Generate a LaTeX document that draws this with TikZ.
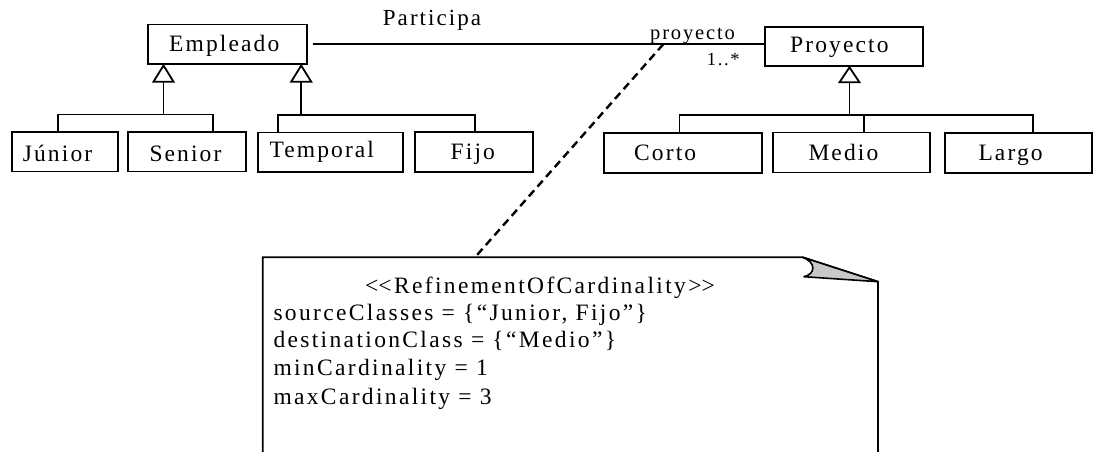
\documentclass[tikz,border=0pt]{standalone}
\usepackage{fontspec}
\setmainfont{Liberation Serif}[LetterSpace=9, Ligatures=TeXOff]
\definecolor{foldgray}{RGB}{200,200,200}
\begin{document}
\begin{tikzpicture}[x=1pt,y=-1pt,
  cls/.style={draw, rectangle, line width=1.8pt, inner sep=0pt},
  clsname/.style={inner sep=0pt, anchor=base west, font=\fontsize{23.5}{28}\selectfont},
  assoc/.style={inner sep=0pt, anchor=base west, font=\fontsize{23}{28}\selectfont},
  rolename/.style={inner sep=0pt, anchor=base west, font=\fontsize{20.5}{24}\selectfont},
  mult/.style={inner sep=0pt, anchor=base west, font=\fontsize{18.5}{22}\selectfont},
  notetext/.style={inner sep=0pt, anchor=base west,
    font=\fontsize{23.5}{28}\selectfont\addfontfeature{LetterSpace=10}},
  link/.style={line width=1.8pt},
  gentri/.style={line width=1.8pt, fill=white, line join=miter},
  noteline/.style={line width=2.4pt, dash pattern=on 8pt off 5pt}
]
\useasboundingbox (0,0) rectangle (1093,452);

% classes
\node[cls, minimum width=158.4, minimum height=39.5] (emp) at (227.5,44.25) {};
\node[cls, minimum width=157.4, minimum height=39.3] (pro) at (844,46.35) {};
\node[cls, minimum width=106.6, minimum height=39.8] (jun) at (65,151.6) {};
\node[cls, minimum width=117.7, minimum height=39.8] (sen) at (187.15,151.6) {};
\node[cls, minimum width=145.6, minimum height=39.5] (tem) at (330.5,152.25) {};
\node[cls, minimum width=117.7, minimum height=40] (fij) at (473.85,152) {};
\node[cls, minimum width=157.7, minimum height=40] (cor) at (682.85,152.7) {};
\node[cls, minimum width=156.7, minimum height=40] (med) at (851.65,152.5) {};
\node[cls, minimum width=147, minimum height=40] (lar) at (1018.5,153) {};

% class names
\node[clsname] (empT) at (169,51.7) {Empleado};
\node[clsname] (proT) at (790,52.3) {Proyecto};
\node[clsname] (junT) at (22.7,161.5) {Júnior};
\node[clsname] (senT) at (149.3,161.5) {Senior};
\node[clsname] (temT) at (269.3,157) {Temporal};
\node[clsname] (fijT) at (450.5,159.5) {Fijo};
\node[clsname] (corT) at (634,160) {Corto};
\node[clsname] (medT) at (808.3,160) {Medio};
\node[clsname] (larT) at (978.3,160.7) {Largo};

% association Participa
\draw[link] ([xshift=5pt]emp.east) -- (emp.east -| pro.west);
\node[assoc] (partT) at (382.7,26) {Participa};
\node[rolename] (roleT) at (650,39.3) {proyecto};
\node[mult] (multT) at (706.7,65.7) {1..*};

% generalization: Empleado <- Junior, Senior
\coordinate (t1) at (163.5,81.7);
\draw[gentri] (163.5,65.5) -- (173.5,81.7) -- (153.5,81.7) -- cycle;
\coordinate (d1) at (58.3,114.5);
\coordinate (d2) at (212.7,114.5);
\draw[link] (t1) -- (t1 |- d1);
\draw[link] (d1 |- jun.north) -- (d1) -- (d2) -- (d2 |- sen.north);

% generalization: Empleado <- Temporal, Fijo
\coordinate (t2) at (301.2,81.7);
\draw[gentri] (301.2,65.5) -- (311.2,81.7) -- (291.2,81.7) -- cycle;
\coordinate (d3) at (277.7,115);
\coordinate (d4) at (475,115);
\draw[link] (t2) -- (t2 |- d3);
\draw[link] (d3 |- tem.north) -- (d3) -- (d4) -- (d4 |- fij.north);

% generalization: Proyecto <- Corto, Medio, Largo
\coordinate (t3) at (849.5,82.3);
\draw[gentri] (849.5,67.3) -- (859.5,82.3) -- (839.5,82.3) -- cycle;
\coordinate (d5) at (679.5,115);
\coordinate (d6) at (864.3,115);
\coordinate (d7) at (1032.7,115);
\draw[link] (t3) -- (t3 |- d5);
\draw[link] (d5 |- cor.north) -- (d5) -- (d7) -- (d7 |- lar.north);
\draw[link] (d6) -- (d6 |- med.north);

% constraint note
\draw[line width=1.8pt, fill=white] (262.7,452) -- (262.7,257.3) -- (802.7,257.3)
  -- (878,281.7) -- (878,452);
\draw[line width=1.6pt, fill=foldgray, line join=round] (802.7,257.3) -- (878,281.7)
  -- (804,276.7) .. controls (816,274) and (816,262) .. (802.7,257.3) -- cycle;
\coordinate (notetop) at (475,257.3);
\coordinate (rolept) at (663.3,44.25);
\draw[noteline] (rolept) -- (notetop);

\node[notetext] (n1) at (365,293.3) {<\kern0pt<RefinementOfCardinality>\kern0pt>};
\node[notetext] (n2) at (273.3,320) {sourceClasses = \{“Junior, Fijo”\}};
\node[notetext] (n3) at (273.3,347.3) {destinationClass = \{“Medio”\}};
\node[notetext] (n4) at (273.3,375) {minCardinality = 1};
\node[notetext] (n5) at (273.3,404) {maxCardinality = 3};
\end{tikzpicture}
\end{document}
